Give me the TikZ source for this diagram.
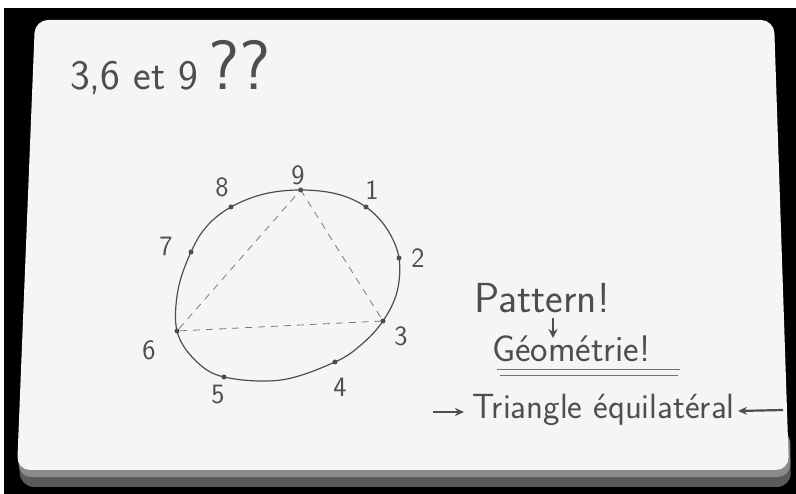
\documentclass[tikz,border=0pt]{standalone}
\usetikzlibrary{arrows.meta}
\definecolor{ink}{HTML}{4E4E4E}
\definecolor{boardc}{HTML}{F5F5F5}
\definecolor{rimc}{HTML}{5A5A5A}
\definecolor{rimtop}{HTML}{8A8A8A}
\begin{document}
\begin{tikzpicture}[x=1pt,y=-1pt,
  hand/.style={text=ink,font=\sffamily,inner sep=0pt},
  numlbl/.style={hand,font=\sffamily\fontsize{28}{28}\selectfont},
  dot/.style={circle,fill=ink,inner sep=0pt,minimum size=5pt},
  inkline/.style={draw=ink,line width=1pt}]
\useasboundingbox (0,0) rectangle (796,494);
\fill[white] (0,0) rectangle (796,494);
\fill[black] (4,8) rectangle (796,494);
% rim
\fill[rimc,rounded corners=14pt] (19,430) -- (790,430) -- (791,487) -- (20,487) -- cycle;
\fill[rimtop,rounded corners=12pt] (18,430) -- (790,430) -- (790,477) -- (19,477) -- cycle;
% board
\fill[boardc,rounded corners=13pt] (35,20) -- (774,20) -- (789,470) -- (17,470) -- cycle;
% title
\node[hand,font=\sffamily\fontsize{42}{42}\selectfont,anchor=base west] (title) at (70,90) {3,6 et 9};
\node[hand,font=\sffamily\fontsize{70}{70}\selectfont,anchor=base west] (qq) at ([xshift=10pt]title.base east) {??};
% circle points
\coordinate (p9) at (300.7,190);
\coordinate (p1) at (366,207);
\coordinate (p2) at (399,258);
\coordinate (p3) at (383,321);
\coordinate (p4) at (335,362);
\coordinate (p5) at (224,377);
\coordinate (p6) at (177,331);
\coordinate (p7) at (191,252);
\coordinate (p8) at (231,207);
\draw[inkline,line width=1.2pt] plot[smooth cycle,tension=0.6] coordinates {
  (300.7,190) (337,194) (366,207) (387,229) (399,258) (397,292) (383,321) (362,344) (335,362)
  (281,380) (224,377) (195,360) (177,331) (178,290) (191,252) (207,226) (231,207) (264,194)};
\draw[ink!75,line width=0.8pt,dash pattern=on 7pt off 6pt] (p9) -- (p3) -- (p6) -- cycle;
\foreach \p in {p1,p2,p3,p4,p5,p6,p7,p8,p9} \node[dot] (d\p) at (\p) {};
% labels
\node[numlbl] (l9) at (298,175) {9};
\node[numlbl] (l1) at (372,190) {1};
\node[numlbl] (l2) at (418,258) {2};
\node[numlbl] (l3) at (401,336) {3};
\node[numlbl] (l4) at (340,387) {4};
\node[numlbl] (l5) at (218,395) {5};
\node[numlbl] (l6) at (149,350) {6};
\node[numlbl] (l7) at (166,246) {7};
\node[numlbl] (l8) at (222,187) {8};
% right text
\node[hand,font=\sffamily\fontsize{42}{42}\selectfont,anchor=base west] (pat) at (474,313) {Pattern!};
\node[hand,font=\sffamily\fontsize{37}{37}\selectfont,anchor=base west] (geo) at (492,362) {Géométrie!};
\coordinate (ar1) at (553,318);
\coordinate (ar2) at (553,338);
\draw[inkline,line width=1.2pt,-{Stealth[length=9pt,width=9pt]}] (ar1) -- (ar2);
\draw[ink!80,line width=0.9pt] (497,369) -- (680,369);
\draw[ink!80,line width=0.9pt] (500,375) -- (678,375);
\node[hand,font=\sffamily\fontsize{35}{35}\selectfont,anchor=base west] (tri) at (472,419) {Triangle équilatéral};
\coordinate (la) at (433,412);
\coordinate (ra) at (783,410);
\draw[inkline,line width=2.2pt,-{Stealth[length=9pt,width=8pt]}] (la) -- (464,412);
\draw[inkline,line width=2.2pt,-{Stealth[length=9pt,width=8pt]}] (ra) -- (738,411);
\end{tikzpicture}
\end{document}
